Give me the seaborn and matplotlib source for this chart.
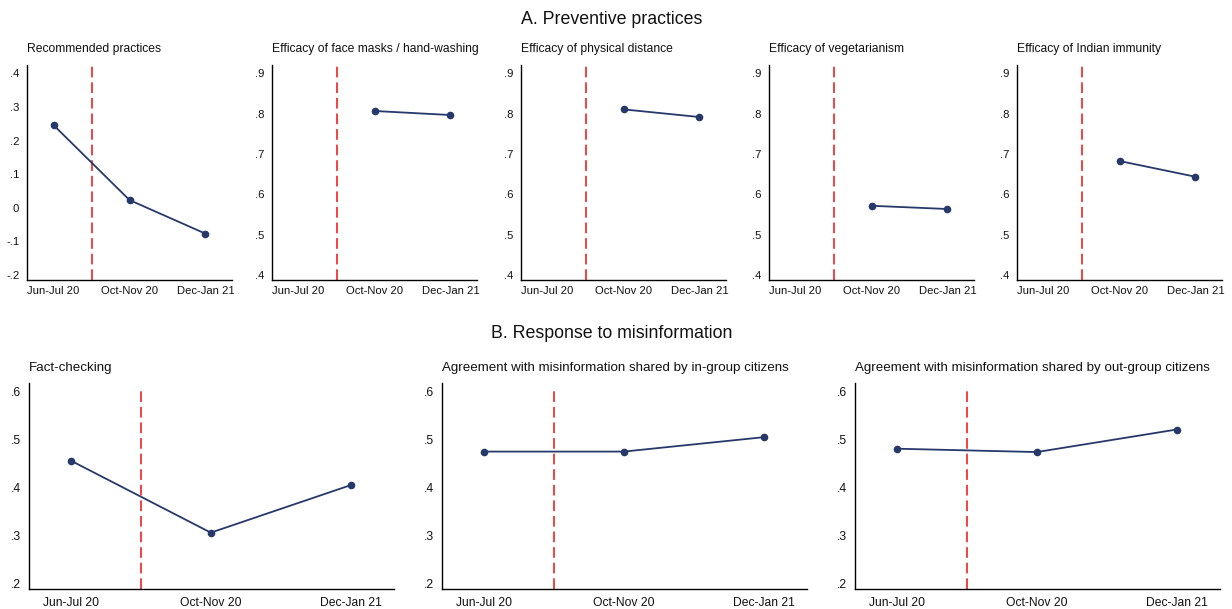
import numpy as np
import pandas as pd
import matplotlib
matplotlib.use("Agg")
import matplotlib.pyplot as plt
import seaborn as sns

sns.set_theme(style="white")
plt.rcParams['font.family'] = ['Liberation Sans', 'DejaVu Sans']

# ---- data ----
periods = ["Jun-Jul 20", "Oct-Nov 20", "Dec-Jan 21"]

top_titles = ["Recommended practices",
              "Efficacy of face masks / hand-washing",
              "Efficacy of physical distance",
              "Efficacy of vegetarianism",
              "Efficacy of Indian immunity"]
recommended = [0.246, 0.023, -0.077]
face_masks = [np.nan, 0.807, 0.797]
physical_distance = [np.nan, 0.811, 0.792]
vegetarianism = [np.nan, 0.572, 0.564]
indian_immunity = [np.nan, 0.683, 0.644]

bottom_titles = ["Fact-checking",
                 "Agreement with misinformation shared by in-group citizens",
                 "Agreement with misinformation shared by out-group citizens"]
fact_checking = [0.455, 0.305, 0.404]
ingroup = [0.474, 0.474, 0.504]
outgroup = [0.480, 0.473, 0.520]

yticks_rec = [-0.2, -0.1, 0.0, 0.1, 0.2, 0.3, 0.4]
ylabels_rec = ["-.2", "-.1", "0", ".1", ".2", ".3", ".4"]
yticks_eff = [0.4, 0.5, 0.6, 0.7, 0.8, 0.9]
ylabels_eff = [".4", ".5", ".6", ".7", ".8", ".9"]
yticks_mis = [0.2, 0.3, 0.4, 0.5, 0.6]
ylabels_mis = [".2", ".3", ".4", ".5", ".6"]

section_a = "A. Preventive practices"
section_b = "B. Response to misinformation"

# ---- styling ----
W, H = 1232, 609
LINE_COLOR = "#26396a"
fig = plt.figure(figsize=(W / 100, H / 100), dpi=100)


def px_axes(left, top, width, height):
    return fig.add_axes([left / W, (H - top - height) / H, width / W, height / H])


def draw(ax, values, title, yticks, ylabels, ylim, xlim, vmax,
         tick_fs, title_fs, xpad, tpad):
    df = pd.DataFrame({"pos": np.arange(len(periods)), "value": values}).dropna()
    sns.lineplot(data=df, x="pos", y="value", ax=ax, color=LINE_COLOR,
                 marker="o", markersize=5.5, markeredgewidth=0, linewidth=1.3)
    ax.axvline(0.5, color="#f01010", linestyle=(0, (7, 3.2)), linewidth=1.1,
               ymax=vmax, zorder=0)
    ax.set_xlim(*xlim)
    ax.set_ylim(*ylim)
    ax.set_xticks(np.arange(len(periods)))
    ax.set_xticklabels(periods)
    ax.set_yticks(yticks)
    ax.set_yticklabels(ylabels)
    ax.set_xlabel("")
    ax.set_ylabel("")
    ax.tick_params(axis="both", length=0, labelsize=tick_fs, colors="#111111")
    ax.tick_params(axis="y", pad=5.5)
    ax.tick_params(axis="x", pad=xpad)
    for s in ["top", "right"]:
        ax.spines[s].set_visible(False)
    for s in ["left", "bottom"]:
        ax.spines[s].set_color("black")
        ax.spines[s].set_linewidth(1.0)
    ax.set_title(title, loc="left", fontsize=title_fs, pad=tpad, color="#111111")


top_vals = [recommended, face_masks, physical_distance, vegetarianism, indian_immunity]
top_lefts = [27, 272, 521, 769, 1017]
for i, (vals, left) in enumerate(zip(top_vals, top_lefts)):
    ax = px_axes(left, 65, 205, 215)
    if i == 0:
        draw(ax, vals, top_titles[i], yticks_rec, ylabels_rec, (-0.215, 0.425),
             (-0.35, 2.35), 1.0, 8.1, 8.7, 4.5, 9.5)
    else:
        draw(ax, vals, top_titles[i], yticks_eff, ylabels_eff, (0.388, 0.921),
             (-0.35, 2.35), 1.0, 8.1, 8.7, 4.5, 9.5)

bottom_vals = [fact_checking, ingroup, outgroup]
bottom_lefts = [29, 442, 855]
for i, (vals, left) in enumerate(zip(bottom_vals, bottom_lefts)):
    ax = px_axes(left, 383, 365, 206)
    draw(ax, vals, bottom_titles[i], yticks_mis, ylabels_mis, (0.1875, 0.617),
         (-0.30, 2.31), 0.971, 8.7, 9.6, 6.0, 9.0)

fig.text(612 / W, 1 - 20 / H, section_a, ha="center", va="center", fontsize=12.8,
         color="#111111")
fig.text(612 / W, 1 - 334 / H, section_b, ha="center", va="center", fontsize=12.8,
         color="#111111")

fig.savefig("out.png", dpi=100, facecolor="white")
